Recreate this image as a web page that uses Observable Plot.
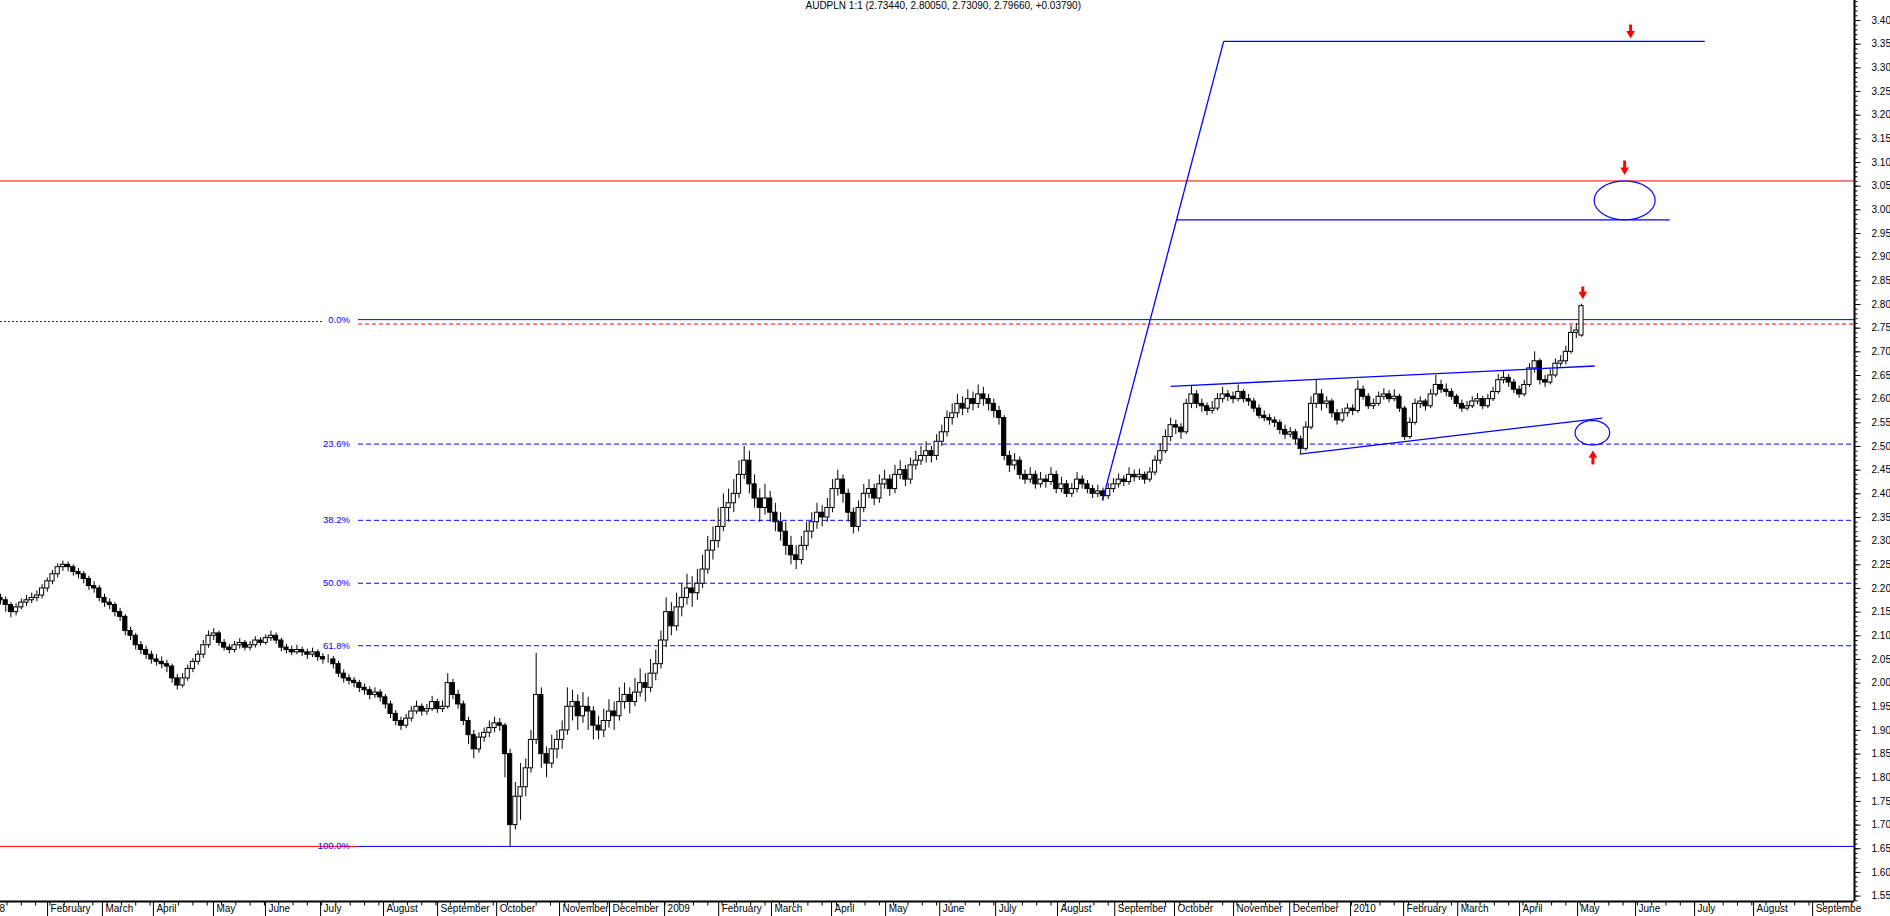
<!DOCTYPE html>
<html><head><meta charset="utf-8">
<script src="https://cdn.jsdelivr.net/npm/d3@7"></script>
<script src="https://cdn.jsdelivr.net/npm/@observablehq/plot@0.6"></script>
<style>
html,body{margin:0;padding:0;background:#fff;overflow:hidden;}
svg{display:block}
</style></head><body><div id="chart"></div>
<script>
const title = "AUDPLN 1:1 (2.73440, 2.80050, 2.73090, 2.79660, +0.03790)";

// one candle per two trading days; x = trading-day index (candle k at 2k)
const open = [
2.180,2.175,2.165,2.150,2.160,2.170,2.175,2.180,2.185,2.200,
2.215,2.230,2.245,2.250,2.245,2.235,2.230,2.220,2.205,2.200,
2.180,2.170,2.165,2.150,2.140,2.110,2.100,2.080,2.070,2.060,
2.050,2.045,2.040,2.035,2.010,1.995,2.010,2.030,2.045,2.060,
2.080,2.100,2.105,2.085,2.075,2.070,2.080,2.085,2.075,2.080,
2.090,2.085,2.095,2.100,2.090,2.075,2.070,2.065,2.070,2.065,
2.060,2.065,2.055,2.050,2.050,2.040,2.020,2.010,2.005,2.000,
1.990,1.985,1.975,1.980,1.970,1.955,1.935,1.920,1.910,1.925,
1.940,1.950,1.940,1.945,1.960,1.945,1.950,2.000,1.975,1.955,
1.920,1.890,1.860,1.885,1.895,1.905,1.915,1.910,1.850,1.700,
1.760,1.780,1.820,1.880,1.975,1.850,1.830,1.860,1.880,1.900,
1.950,1.960,1.930,1.950,1.940,1.910,1.900,1.920,1.940,1.930,
1.960,1.975,1.960,1.980,2.000,1.990,2.020,2.040,2.090,2.150,
2.120,2.160,2.180,2.200,2.190,2.210,2.240,2.280,2.300,2.330,
2.370,2.380,2.400,2.440,2.470,2.420,2.390,2.370,2.390,2.360,
2.340,2.320,2.290,2.270,2.260,2.290,2.320,2.340,2.360,2.350,
2.370,2.410,2.430,2.400,2.360,2.330,2.370,2.400,2.410,2.390,
2.420,2.430,2.410,2.440,2.450,2.430,2.460,2.470,2.480,2.490,
2.480,2.510,2.530,2.560,2.570,2.590,2.580,2.600,2.590,2.610,
2.600,2.590,2.575,2.560,2.480,2.460,2.470,2.440,2.430,2.440,
2.420,2.430,2.425,2.440,2.410,2.420,2.400,2.410,2.430,2.420,
2.410,2.400,2.405,2.395,2.410,2.420,2.430,2.425,2.440,2.435,
2.440,2.430,2.445,2.470,2.490,2.520,2.545,2.540,2.530,2.590,
2.610,2.590,2.585,2.575,2.580,2.600,2.610,2.605,2.600,2.615,
2.600,2.595,2.580,2.565,2.560,2.555,2.550,2.535,2.525,2.530,
2.515,2.495,2.540,2.590,2.610,2.590,2.595,2.570,2.555,2.570,
2.580,2.575,2.620,2.605,2.585,2.590,2.605,2.610,2.600,2.605,
2.580,2.520,2.550,2.590,2.595,2.585,2.610,2.630,2.620,2.615,
2.605,2.590,2.580,2.585,2.595,2.600,2.585,2.600,2.615,2.640,
2.645,2.635,2.620,2.610,2.630,2.665,2.680,2.640,2.635,2.650,
2.675,2.680,2.700,2.740,2.7344];
const high = [
2.188,2.182,2.170,2.168,2.178,2.185,2.190,2.195,2.208,2.222,
2.238,2.252,2.258,2.256,2.250,2.242,2.236,2.226,2.214,2.206,
2.188,2.178,2.170,2.158,2.145,2.118,2.105,2.088,2.078,2.068,
2.060,2.055,2.048,2.040,2.018,2.020,2.038,2.052,2.068,2.090,
2.110,2.115,2.110,2.092,2.082,2.088,2.094,2.090,2.088,2.098,
2.096,2.102,2.110,2.106,2.095,2.082,2.078,2.080,2.076,2.072,
2.074,2.070,2.062,2.060,2.056,2.046,2.028,2.018,2.012,2.006,
1.998,1.992,1.990,1.986,1.976,1.962,1.942,1.928,1.934,1.950,
1.962,1.956,1.955,1.972,1.966,1.962,2.020,2.008,1.985,1.962,
1.928,1.900,1.895,1.905,1.920,1.928,1.925,1.915,1.860,1.790,
1.830,1.840,1.900,2.063,1.990,1.865,1.890,1.900,1.920,1.990,
1.985,1.975,1.980,1.970,1.950,1.930,1.945,1.965,1.960,1.990,
2.000,1.990,2.010,2.030,2.020,2.050,2.070,2.110,2.180,2.170,
2.190,2.210,2.230,2.225,2.240,2.270,2.310,2.330,2.370,2.400,
2.410,2.430,2.470,2.500,2.490,2.440,2.410,2.420,2.405,2.380,
2.360,2.340,2.310,2.290,2.310,2.340,2.360,2.380,2.375,2.390,
2.430,2.450,2.440,2.410,2.370,2.385,2.420,2.430,2.420,2.440,
2.450,2.440,2.460,2.470,2.460,2.475,2.490,2.500,2.510,2.500,
2.525,2.545,2.575,2.590,2.610,2.605,2.620,2.615,2.630,2.625,
2.610,2.600,2.585,2.565,2.490,2.485,2.478,2.450,2.455,2.448,
2.445,2.440,2.455,2.448,2.435,2.428,2.422,2.445,2.438,2.428,
2.418,2.418,2.412,2.422,2.432,2.442,2.438,2.455,2.450,2.452,
2.446,2.455,2.480,2.505,2.535,2.560,2.555,2.548,2.600,2.629,
2.618,2.600,2.592,2.595,2.612,2.625,2.618,2.615,2.630,2.620,
2.610,2.602,2.588,2.575,2.568,2.562,2.556,2.545,2.540,2.536,
2.522,2.552,2.605,2.640,2.620,2.605,2.600,2.578,2.580,2.590,
2.588,2.639,2.628,2.612,2.600,2.615,2.622,2.618,2.620,2.610,
2.585,2.560,2.600,2.605,2.600,2.620,2.650,2.640,2.632,2.622,
2.610,2.598,2.595,2.605,2.612,2.606,2.610,2.625,2.652,2.658,
2.652,2.642,2.628,2.640,2.675,2.700,2.685,2.650,2.662,2.685,
2.692,2.712,2.755,2.760,2.8005];
const low = [
2.165,2.150,2.138,2.142,2.155,2.162,2.168,2.172,2.178,2.192,
2.208,2.222,2.236,2.235,2.226,2.220,2.210,2.196,2.190,2.172,
2.160,2.155,2.140,2.130,2.100,2.090,2.070,2.060,2.050,2.040,
2.036,2.030,2.022,2.000,1.985,1.990,2.004,2.022,2.038,2.052,
2.074,2.090,2.078,2.068,2.062,2.064,2.072,2.068,2.068,2.074,
2.078,2.080,2.088,2.082,2.066,2.062,2.058,2.060,2.056,2.050,
2.054,2.046,2.040,2.042,2.030,2.012,2.000,1.996,1.990,1.980,
1.975,1.965,1.968,1.960,1.945,1.925,1.910,1.900,1.904,1.918,
1.934,1.930,1.932,1.940,1.936,1.938,1.945,1.965,1.945,1.910,
1.870,1.840,1.852,1.875,1.885,1.895,1.898,1.800,1.653,1.690,
1.710,1.760,1.810,1.870,1.820,1.800,1.820,1.840,1.860,1.890,
1.920,1.900,1.915,1.900,1.880,1.880,1.885,1.905,1.900,1.920,
1.945,1.935,1.950,1.970,1.960,1.980,2.005,2.030,2.075,2.100,
2.110,2.140,2.165,2.160,2.175,2.200,2.230,2.260,2.285,2.320,
2.340,2.360,2.390,2.430,2.400,2.370,2.340,2.355,2.340,2.320,
2.300,2.270,2.250,2.240,2.250,2.280,2.305,2.325,2.330,2.340,
2.360,2.395,2.380,2.340,2.315,2.320,2.360,2.390,2.375,2.380,
2.410,2.395,2.400,2.430,2.415,2.420,2.450,2.460,2.465,2.465,
2.470,2.500,2.520,2.545,2.560,2.565,2.570,2.575,2.580,2.585,
2.575,2.560,2.545,2.470,2.445,2.450,2.430,2.420,2.422,2.410,
2.412,2.412,2.418,2.400,2.402,2.392,2.392,2.402,2.410,2.400,
2.390,2.392,2.385,2.388,2.402,2.412,2.415,2.418,2.425,2.428,
2.420,2.424,2.438,2.462,2.485,2.510,2.525,2.515,2.525,2.580,
2.580,2.572,2.565,2.568,2.575,2.592,2.595,2.590,2.594,2.592,
2.585,2.572,2.558,2.552,2.545,2.540,2.525,2.515,2.518,2.505,
2.484,2.490,2.535,2.580,2.575,2.580,2.560,2.545,2.550,2.562,
2.565,2.570,2.598,2.578,2.578,2.585,2.598,2.592,2.595,2.572,
2.513,2.515,2.545,2.580,2.575,2.580,2.605,2.612,2.605,2.598,
2.582,2.572,2.575,2.580,2.588,2.578,2.580,2.595,2.610,2.632,
2.625,2.612,2.602,2.605,2.625,2.655,2.630,2.625,2.630,2.645,
2.668,2.672,2.695,2.728,2.7309];
const close = [
2.175,2.165,2.150,2.160,2.170,2.175,2.180,2.185,2.200,2.215,
2.230,2.245,2.250,2.245,2.235,2.230,2.220,2.205,2.200,2.180,
2.170,2.165,2.150,2.140,2.110,2.100,2.080,2.070,2.060,2.050,
2.045,2.040,2.035,2.010,1.995,2.010,2.030,2.045,2.060,2.080,
2.100,2.105,2.085,2.075,2.070,2.080,2.085,2.075,2.080,2.090,
2.085,2.095,2.100,2.090,2.075,2.070,2.065,2.070,2.065,2.060,
2.065,2.055,2.050,2.050,2.040,2.020,2.010,2.005,2.000,1.990,
1.985,1.975,1.980,1.970,1.955,1.935,1.920,1.910,1.925,1.940,
1.950,1.940,1.945,1.960,1.945,1.950,2.000,1.975,1.955,1.920,
1.890,1.860,1.885,1.895,1.905,1.915,1.910,1.850,1.700,1.760,
1.780,1.820,1.880,1.975,1.850,1.830,1.860,1.880,1.900,1.950,
1.960,1.930,1.950,1.940,1.910,1.900,1.920,1.940,1.930,1.960,
1.975,1.960,1.980,2.000,1.990,2.020,2.040,2.090,2.150,2.120,
2.160,2.180,2.200,2.190,2.210,2.240,2.280,2.300,2.330,2.370,
2.380,2.400,2.440,2.470,2.420,2.390,2.370,2.390,2.360,2.340,
2.320,2.290,2.270,2.260,2.290,2.320,2.340,2.360,2.350,2.370,
2.410,2.430,2.400,2.360,2.330,2.370,2.400,2.410,2.390,2.420,
2.430,2.410,2.440,2.450,2.430,2.460,2.470,2.480,2.490,2.480,
2.510,2.530,2.560,2.570,2.590,2.580,2.600,2.590,2.610,2.600,
2.590,2.575,2.560,2.480,2.460,2.470,2.440,2.430,2.440,2.420,
2.430,2.425,2.440,2.410,2.420,2.400,2.410,2.430,2.420,2.410,
2.400,2.405,2.395,2.410,2.420,2.430,2.425,2.440,2.435,2.440,
2.430,2.445,2.470,2.490,2.520,2.545,2.540,2.530,2.590,2.610,
2.590,2.585,2.575,2.580,2.600,2.610,2.605,2.600,2.615,2.600,
2.595,2.580,2.565,2.560,2.555,2.550,2.535,2.525,2.530,2.515,
2.495,2.540,2.590,2.610,2.590,2.595,2.570,2.555,2.570,2.580,
2.575,2.620,2.605,2.585,2.590,2.605,2.610,2.600,2.605,2.580,
2.520,2.550,2.590,2.595,2.585,2.610,2.630,2.620,2.615,2.605,
2.590,2.580,2.585,2.595,2.600,2.585,2.600,2.615,2.640,2.645,
2.635,2.620,2.610,2.630,2.665,2.680,2.640,2.635,2.650,2.675,
2.680,2.700,2.740,2.745,2.7966];

// x-axis month labels and their trading-day index
const monthLabels = ["2008","February","March","April","May","June","July","August","September","October","November","December",
  "2009","February","March","April","May","June","July","August","September","October","November","December",
  "2010","February","March","April","May","June","July","August","Septembe"];
const monthIndex = [-8,18.1,39.2,58.8,81.9,101.9,123.1,147.3,168.1,190.8,215,234.2,
  255.4,276.2,296.5,319.6,340.4,361.2,382.7,406.5,428.5,451.5,474.2,495.8,
  519.2,539.6,560.4,584.2,606.5,628.8,651.5,674.2,696.9];

// Fibonacci retracement levels
const fibLabels = ["0.0%","23.6%","38.2%","50.0%","61.8%","100.0%"];
const fibValues = [2.768,2.505,2.344,2.211,2.079,1.655];
const fibStart = 137.7;
const fibLeftEnd = 124.0;

// other horizontal levels
const redLevel = 3.061;
const lowLevel = 1.655;
const prevClose = 2.7587;
const leftDotted = 2.764;

// blue drawn lines: [x1, y1, x2, y2]
const blueLines = [
  [423.8,2.386,470.4,3.356],
  [470.4,3.356,655.4,3.356],
  [452.3,2.979,641.9,2.979],
  [450.0,2.627,613.1,2.670],
  [499.6,2.484,616.0,2.560]
];
// ellipses: [centerX, centerY, halfWidth (index), halfHeight (price)]
const ellipses = [[624.6,3.020,11.7,0.041],[612.2,2.529,6.65,0.0258]];
// red arrows: [x, tail price, tip price]
const arrows = [[626.9,3.3915,3.366],[624.6,3.1042,3.0774],[608.5,2.838,2.8148],[612.4,2.462,2.488]];

const X0 = 0, X1 = 713, Y0 = 1.5386, Y1 = 3.4423;
const pxY = 1/473.3, pxX = 1/2.6;

const bars = close.map((c,k)=>({i:2*k,o:open[k],h:high[k],l:low[k],c}));
const up = bars.filter(d=>d.c>=d.o), down = bars.filter(d=>d.c<d.o);
const hw = 0.8;

const months = monthLabels.map((t,j)=>({t,x:monthIndex[j]}));
const fibs = fibLabels.map((t,j)=>({t,v:fibValues[j]}));
const majors = d3.range(31,69).map(j=>j*0.05);           // 1.55 .. 3.40
const minors = d3.range(154,345).map(j=>j*0.01);
const weekTicks = d3.range(-3,713,5.5);

const ellPts = [];
ellipses.forEach((e,j)=>{ d3.range(0,361,4).forEach(a=>{const r=a*Math.PI/180; ellPts.push({z:j,x:e[0]+e[2]*Math.cos(r),y:e[1]+e[3]*Math.sin(r)});}); });

const arrowShafts = arrows.map(a=>{const dir = a[2]<a[1]?-1:1; return {x:a[0],y1:a[1],y2:a[2]-dir*5*pxY};});
const arrowHeads = arrows.map(a=>{const dir = a[2]<a[1]?-1:1; return {x:a[0],y:a[2]-dir*3.2*pxY,rot:dir<0?180:0};});

const BLUE="#0000ff", RED="#ff0000";

const chart = Plot.plot({
  width:1890, height:916,
  marginLeft:0, marginRight:36, marginTop:0, marginBottom:15,
  x:{domain:[X0,X1], axis:null},
  y:{domain:[Y0,Y1], axis:null},
  style:{fontFamily:"'Liberation Sans', Arial, sans-serif", fontSize:"10px", background:"#fff", color:"#000"},
  marks:[
    // horizontal reference levels
    Plot.ruleY([redLevel],{stroke:RED,strokeWidth:1}),
    Plot.ruleY([lowLevel],{x1:X0,x2:fibStart,stroke:RED,strokeWidth:1}),
    Plot.ruleY([leftDotted],{x1:X0,x2:fibLeftEnd,stroke:"#333",strokeWidth:1,strokeDasharray:"2,2"}),
    Plot.ruleY([prevClose],{x1:fibStart,x2:X1,stroke:RED,strokeWidth:1,strokeDasharray:"4,3"}),
    Plot.ruleY(fibs.filter(d=>d.t==="0.0%"||d.t==="100.0%"),{y:"v",x1:fibStart,x2:X1,stroke:BLUE,strokeWidth:1}),
    Plot.ruleY(fibs.filter(d=>d.t!=="0.0%"&&d.t!=="100.0%"),{y:"v",x1:fibStart,x2:X1,stroke:BLUE,strokeWidth:1,strokeDasharray:"5,3"}),
    Plot.text(fibs,{x:fibStart-3.3,y:"v",text:"t",textAnchor:"end",fill:BLUE,fontSize:9.5}),
    // candles
    Plot.ruleX(bars,{x:"i",y1:"l",y2:"h",stroke:"#000",strokeWidth:1}),
    Plot.rect(down,{x1:d=>d.i-hw,x2:d=>d.i+hw,y1:"o",y2:"c",fill:"#000",stroke:"#000",strokeWidth:1}),
    Plot.rect(up,{x1:d=>d.i-hw,x2:d=>d.i+hw,y1:"o",y2:"c",fill:"#fff",stroke:"#000",strokeWidth:1}),
    // drawn lines
    Plot.link(blueLines,{x1:d=>d[0],y1:d=>d[1],x2:d=>d[2],y2:d=>d[3],stroke:BLUE,strokeWidth:1.3}),
    Plot.line(ellPts,{x:"x",y:"y",z:"z",stroke:BLUE,strokeWidth:1.2,curve:"linear"}),
    // red arrows
    Plot.link(arrowShafts,{x1:"x",x2:"x",y1:"y1",y2:"y2",stroke:RED,strokeWidth:3}),
    Plot.dot(arrowHeads,{x:"x",y:"y",symbol:"triangle",r:3.2,fill:RED,stroke:"none",rotate:"rot"}),
    // axes
    Plot.ruleX([X1],{y1:Y0,y2:Y1,stroke:"#000",strokeWidth:2}),
    Plot.ruleY([Y0],{x1:X0,x2:X1,stroke:"#000",strokeWidth:2}),
    Plot.link(minors,{x1:X1,x2:X1+3*pxX,y1:d=>d,y2:d=>d,stroke:"#000",strokeWidth:1}),
    Plot.link(majors,{x1:X1,x2:X1+6*pxX,y1:d=>d,y2:d=>d,stroke:"#000",strokeWidth:1}),
    Plot.text(majors,{x:X1,y:d=>d,text:d=>d.toFixed(2),dx:17,textAnchor:"start",fill:"#000"}),
    Plot.link(weekTicks,{x1:d=>d,x2:d=>d,y1:Y0,y2:Y0-4*pxY,stroke:"#000",strokeWidth:1}),
    Plot.link(months,{x1:"x",x2:"x",y1:Y0,y2:Y0-15*pxY,stroke:"#000",strokeWidth:1}),
    Plot.text(months,{x:"x",y:Y0,text:"t",dx:3,dy:3,textAnchor:"start",lineAnchor:"top",fill:"#000"}),
    // title
    Plot.text([title],{frameAnchor:"top-left",dx:805,dy:1,lineAnchor:"top",textAnchor:"start",fill:"#000"})
  ]
});
document.getElementById("chart").appendChild(chart);
</script>
</body></html>
